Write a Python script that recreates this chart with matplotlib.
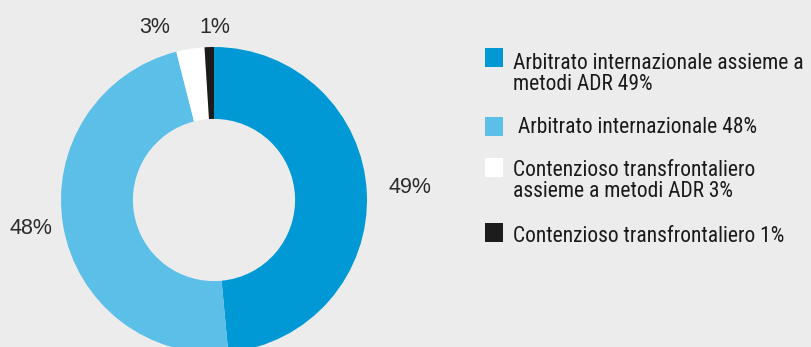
import matplotlib
matplotlib.use("Agg")
import matplotlib.pyplot as plt
from matplotlib import font_manager
from matplotlib.patches import Rectangle
import numpy as np

values = [49, 48, 3, 1]
labels = ["Arbitrato internazionale assieme a\nmetodi ADR 49%",
          " Arbitrato internazionale 48%",
          "Contenzioso transfrontaliero\nassieme a metodi ADR 3%",
          "Contenzioso transfrontaliero 1%"]
colors = ["#0099d5", "#5bbfe7", "#ffffff", "#1c1c1c"]

bg = "#ececec"
W, H = 811, 347

installed = {f.name for f in font_manager.fontManager.ttflist}
legend_font = "Roboto Condensed" if "Roboto Condensed" in installed else "Roboto"

fig = plt.figure(figsize=(W / 100, H / 100), dpi=100, facecolor=bg)

# donut: centre (214, 200) px from top, outer radius 153 px
cx, cy, R = 214, 200, 153
ax = fig.add_axes([(cx - R) / W, (H - cy - R) / H, 2 * R / W, 2 * R / H])
ax.set_facecolor(bg)
wedges, _ = ax.pie(values, colors=colors, startangle=90, counterclock=False,
                   radius=1, wedgeprops=dict(width=0.47, linewidth=0))
ax.set_xlim(-1, 1)
ax.set_ylim(-1, 1)
ax.set_aspect("equal")
ax.axis("off")

label_r = [1.28, 1.21, 1.19, 1.13]
label_shift = [1, -1, 10, -2]
for w, v, r, s in zip(wedges, values, label_r, label_shift):
    a = np.deg2rad((w.theta1 + w.theta2) / 2 + s)
    ax.text(r * np.cos(a), r * np.sin(a), f"{v}%", ha="center", va="center",
            fontsize=15.5, color="#2a2a2a", family="Liberation Sans", clip_on=False)

# legend (square top and last-line baseline, px from top)
sq_top = [48, 117, 158, 223]
baseline = [90, 133, 197, 242]
for top, bl, lab, col in zip(sq_top, baseline, labels, colors):
    fig.patches.append(Rectangle((485 / W, (H - top - 19) / H), 18 / W, 19 / H,
                                 transform=fig.transFigure, facecolor=col,
                                 edgecolor="none"))
    fig.text(513 / W, (H - bl) / H, lab, ha="left", va="baseline",
             fontsize=15.5, family=legend_font, color="#1a1a1a", linespacing=1.0)

fig.savefig("out.png", dpi=100, facecolor=bg)
